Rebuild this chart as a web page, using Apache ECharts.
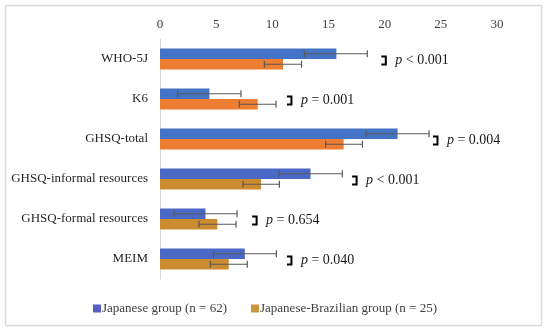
<!DOCTYPE html>
<html><head><meta charset="utf-8">
<script src="https://cdn.jsdelivr.net/npm/echarts@6/dist/echarts.min.js"></script>
<style>html,body{margin:0;padding:0;background:#fff}#c{width:550px;height:333px}</style>
</head><body><div id="c"></div>
<script>
var categories = ['WHO-5J','K6','GHSQ-total','GHSQ-informal resources','GHSQ-formal resources','MEIM'];
var japaneseMean = [15.7, 4.4, 21.15, 13.4, 4.05, 7.55];
var japaneseLow = [12.85, 1.57, 18.34, 10.6, 1.25, 4.75];
var japaneseHigh = [18.45, 7.21, 23.95, 16.23, 6.86, 10.36];
var brazilMean = [10.95, 8.7, 16.35, 9.0, 5.1, 6.12];
var brazilLow = [9.29, 7.06, 14.75, 7.39, 3.47, 4.48];
var brazilHigh = [12.6, 10.33, 18.02, 10.63, 6.77, 7.77];
var pLabels = ['< 0.001','= 0.001','= 0.004','< 0.001','= 0.654','= 0.040'];
var bracketX = [19.7, 11.3, 24.3, 17.1, 8.2, 11.3];
var xTicks = [0, 5, 10, 15, 20, 25, 30];

var BLUE_TOP = '#4472C4', ORANGE_TOP = '#ED7D31';
var BLUE_LOW = '#4a69c6', ORANGE_LOW = '#cd8b30';
var BW = 10.5;
var serif = 'Liberation Serif';

function barItems(vals, cTop, cLow) {
  return vals.map(function (v, i) {
    return { value: v, itemStyle: { color: i < 3 ? cTop : cLow } };
  });
}
function errData(low, high) {
  return low.map(function (l, i) { return [i, l, high[i]]; });
}
function errRender(offsetSign) {
  return function (params, api) {
    var idx = api.value(0);
    var p1 = api.coord([api.value(1), idx]);
    var p2 = api.coord([api.value(2), idx]);
    var y = p1[1] + offsetSign * BW / 2;
    var h = 3.5;
    var st = { stroke: '#595959', lineWidth: 1.2 };
    return { type: 'group', children: [
      { type: 'line', shape: { x1: p1[0], y1: y, x2: p2[0], y2: y }, style: st },
      { type: 'line', shape: { x1: p1[0], y1: y - h, x2: p1[0], y2: y + h }, style: st },
      { type: 'line', shape: { x1: p2[0], y1: y - h, x2: p2[0], y2: y + h }, style: st }
    ]};
  };
}

var legendText = { fontFamily: serif, fontSize: 13, color: '#404040', padding: [0, 0, 0, -4] };
var chart = echarts.init(document.getElementById('c'));
chart.setOption({
  animation: false,
  textStyle: { fontFamily: serif },
  graphic: [{ type: 'rect', shape: { x: 5.5, y: 5.5, width: 536, height: 320 },
    style: { fill: 'none', stroke: '#dcdcdc', lineWidth: 1.5 }, z: -1 }],
  grid: { left: 160, right: 53, top: 39, height: 240 },
  legend: {
    left: 88, top: 297, icon: 'rect', itemWidth: 8, itemHeight: 8, itemGap: 24,
    textStyle: legendText,
    data: [
      { name: 'Japanese group (n = 62)', itemStyle: { color: '#5560c2' }, textStyle: legendText },
      { name: 'Japanese-Brazilian group (n = 25)', itemStyle: { color: '#c8963f' }, textStyle: legendText }
    ]
  },
  xAxis: {
    type: 'value', position: 'top', min: xTicks[0], max: xTicks[xTicks.length - 1], interval: 5,
    axisLine: { show: false }, axisTick: { show: false }, splitLine: { show: false },
    axisLabel: { fontFamily: serif, fontSize: 13, color: '#404040', margin: 8 }
  },
  yAxis: {
    type: 'category', data: categories, inverse: true,
    axisLine: { show: true, lineStyle: { color: '#d9d9d9', width: 1 } },
    axisTick: { show: false },
    axisLabel: { fontFamily: serif, fontSize: 13, color: '#262626', margin: 12 }
  },
  series: [
    { name: 'Japanese group (n = 62)', type: 'bar', barWidth: BW, barGap: '0%',
      data: barItems(japaneseMean, BLUE_TOP, BLUE_LOW), itemStyle: { color: BLUE_TOP } },
    { name: 'Japanese-Brazilian group (n = 25)', type: 'bar', barWidth: BW, barGap: '0%',
      data: barItems(brazilMean, ORANGE_TOP, ORANGE_LOW), itemStyle: { color: ORANGE_TOP } },
    { type: 'custom', z: 5, encode: { x: [1, 2], y: 0 },
      data: errData(japaneseLow, japaneseHigh), renderItem: errRender(-1) },
    { type: 'custom', z: 5, encode: { x: [1, 2], y: 0 },
      data: errData(brazilLow, brazilHigh), renderItem: errRender(1) },
    { type: 'custom', z: 6, encode: { x: 0, y: 1 },
      data: bracketX.map(function (x, i) { return [x, i, pLabels[i]]; }),
      renderItem: function (params, api) {
        var p = api.coord([api.value(0), api.value(1)]);
        var x = p[0], y = p[1] + 1.5;
        var label = pLabels[params.dataIndex];
        return { type: 'group', children: [
          { type: 'polyline', shape: { points: [[x, y - 4], [x + 4.5, y - 4], [x + 4.5, y + 4], [x, y + 4]] },
            style: { stroke: '#000', lineWidth: 2, fill: null } },
          { type: 'text', x: x + 14, y: y,
            style: { text: '{i|p} ' + label, fontFamily: serif, fontSize: 14, fill: '#1a1a1a',
              verticalAlign: 'middle', align: 'left',
              rich: { i: { fontStyle: 'italic', fontFamily: serif, fontSize: 14, fill: '#1a1a1a' } } } }
        ]};
      }
    }
  ]
});
</script></body></html>
